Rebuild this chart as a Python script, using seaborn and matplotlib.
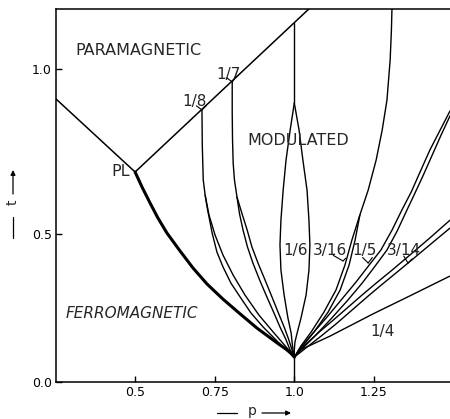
import numpy as np
import matplotlib
matplotlib.use("Agg")
import matplotlib.pyplot as plt
import seaborn as sns

# ---- phase boundaries in the (p, t) plane ----
# paramagnetic / ferromagnetic line, ending at the Lifshitz point PL
para_ferro_p = [0.252, 0.500]
para_ferro_t = [0.909, 0.688]
# paramagnetic / modulated line, starting at PL
para_mod_p = [0.500, 1.060]
para_mod_t = [0.688, 1.195]
# ferromagnetic / modulated boundary (heavy line)
ferro_mod_p = [0.500, 0.522, 0.547, 0.572, 0.600, 0.641, 0.682, 0.726, 0.776,
               0.830, 0.883, 0.946, 0.987, 1.000]
ferro_mod_t = [0.688, 0.642, 0.594, 0.548, 0.503, 0.443, 0.385, 0.331, 0.280,
               0.230, 0.182, 0.132, 0.101, 0.084]

# commensurate phase 1/8
q18a_p = [0.710, 0.711, 0.714, 0.720, 0.726, 0.742, 0.757, 0.776, 0.801, 0.830,
          0.864, 0.902, 0.936, 0.965, 0.984, 1.000]
q18a_t = [0.876, 0.770, 0.664, 0.618, 0.582, 0.503, 0.439, 0.389, 0.334, 0.287,
          0.233, 0.186, 0.149, 0.118, 0.098, 0.084]
q18b_p = [0.720, 0.732, 0.751, 0.776, 0.808, 0.845, 0.889, 0.936, 0.977, 1.000]
q18b_t = [0.618, 0.558, 0.497, 0.429, 0.361, 0.294, 0.226, 0.166, 0.115, 0.084]
# commensurate phase 1/7
q17a_p = [0.805, 0.805, 0.806, 0.808, 0.812, 0.820, 0.828, 0.839, 0.853, 0.870,
          0.891, 0.914, 0.935, 0.955, 0.973, 0.987, 1.000]
q17a_t = [0.961, 0.867, 0.785, 0.715, 0.664, 0.612, 0.561, 0.512, 0.456, 0.402,
          0.345, 0.287, 0.236, 0.186, 0.145, 0.108, 0.084]
q17b_p = [0.820, 0.836, 0.852, 0.867, 0.886, 0.908, 0.930, 0.949, 0.968, 0.982,
          0.993, 1.000]
q17b_t = [0.612, 0.561, 0.512, 0.456, 0.402, 0.345, 0.287, 0.236, 0.186, 0.145,
          0.108, 0.084]
# commensurate phase 1/6 (stem and lens)
q16_stem_p = [1.000, 1.000]
q16_stem_t = [1.140, 0.897]
q16_lens_t = [0.897, 0.815, 0.724, 0.633, 0.542, 0.463, 0.378, 0.294, 0.216,
              0.166, 0.135, 0.108, 0.084]
q16_left_p = [1.000, 0.987, 0.974, 0.965, 0.958, 0.955, 0.958, 0.968, 0.980,
              0.990, 0.993, 0.996, 1.000]
q16_right_p = [1.000, 1.015, 1.027, 1.040, 1.046, 1.049, 1.046, 1.037, 1.021,
               1.009, 1.002, 1.000, 1.000]
# commensurate phase 3/16
q316a_p = [1.307, 1.305, 1.301, 1.291, 1.276, 1.257, 1.232, 1.206, 1.181, 1.159,
           1.131, 1.093, 1.053, 1.021, 1.000]
q316a_t = [1.194, 1.118, 1.027, 0.906, 0.815, 0.724, 0.633, 0.558, 0.480, 0.395,
           0.311, 0.236, 0.169, 0.122, 0.084]
q316b_p = [1.206, 1.191, 1.172, 1.144, 1.106, 1.062, 1.027, 1.000]
q316b_t = [0.558, 0.480, 0.395, 0.311, 0.236, 0.169, 0.122, 0.084]
# commensurate phase 1/5
q15a_p = [1.489, 1.458, 1.426, 1.395, 1.367, 1.338, 1.307, 1.272, 1.235, 1.194,
          1.147, 1.100, 1.056, 1.021, 1.000]
q15a_t = [0.873, 0.815, 0.755, 0.688, 0.627, 0.573, 0.512, 0.446, 0.395, 0.338,
          0.277, 0.216, 0.162, 0.118, 0.084]
q15b_p = [1.489, 1.461, 1.433, 1.404, 1.376, 1.351, 1.323, 1.291, 1.254, 1.213,
          1.166, 1.115, 1.068, 1.027, 1.000]
q15b_t = [0.858, 0.800, 0.739, 0.676, 0.618, 0.567, 0.509, 0.446, 0.392, 0.334,
          0.274, 0.213, 0.159, 0.115, 0.084]
# commensurate phase 3/14
q314a_p = [1.489, 1.426, 1.363, 1.307, 1.257, 1.213, 1.166, 1.119, 1.075, 1.034,
           1.000]
q314a_t = [0.542, 0.487, 0.429, 0.378, 0.334, 0.294, 0.250, 0.206, 0.166, 0.125,
           0.084]
q314b_p = [1.489, 1.433, 1.373, 1.319, 1.269, 1.225, 1.178, 1.131, 1.084, 1.040,
           1.000]
q314b_t = [0.518, 0.470, 0.416, 0.368, 0.324, 0.284, 0.240, 0.196, 0.155, 0.118,
           0.084]
# antiphase 1/4 boundary
q14_p = [1.489, 1.363, 1.247, 1.112, 1.018, 1.000]
q14_t = [0.358, 0.291, 0.230, 0.155, 0.108, 0.084]
# multiphase line at p = 1
mp_p = [1.000, 1.000]
mp_t = [0.000, 0.084]

x_ticks = [0.5, 0.75, 1.0, 1.25]
x_tick_labels = ["0.5", "0.75", "1.0", "1.25"]
y_ticks = [0.0, 0.5, 1.0]
y_tick_labels = ["0.0", "0.5", "1.0"]

sns.set_theme(style="white")
plt.rcParams["font.family"] = ["DejaVu Sans"]

fig = plt.figure(figsize=(4.5, 4.19), dpi=100)
ax = fig.add_axes([0.1244, 0.0883, 0.8756, 0.8902])

# temperature axis is stretched piecewise (as printed)
T_KNOTS = [-1.0, 0.0, 0.5, 1.0, 2.0]
H_KNOTS = [-296.0, 0.0, 148.0, 313.0, 643.0]


def t_fwd(t):
    return np.interp(t, T_KNOTS, H_KNOTS)


def t_inv(h):
    return np.interp(h, H_KNOTS, T_KNOTS)


def boundary(p, t, lw=1.0):
    sns.lineplot(x=p, y=t, sort=False, estimator=None, color="black",
                 lw=lw, ax=ax, solid_capstyle="round", solid_joinstyle="round")


boundary(para_ferro_p, para_ferro_t, 1.1)
boundary(para_mod_p, para_mod_t, 1.1)
boundary(ferro_mod_p, ferro_mod_t, 2.2)
for p, t in [(q18a_p, q18a_t), (q18b_p, q18b_t), (q17a_p, q17a_t),
             (q17b_p, q17b_t), (q16_stem_p, q16_stem_t),
             (q16_left_p, q16_lens_t), (q16_right_p, q16_lens_t),
             (q316a_p, q316a_t), (q316b_p, q316b_t), (q15a_p, q15a_t),
             (q15b_p, q15b_t), (q314a_p, q314a_t), (q314b_p, q314b_t),
             (q14_p, q14_t), (mp_p, mp_t)]:
    boundary(p, t, 1.0)

ax.set_yscale("function", functions=(t_fwd, t_inv))
ax.set_xlim(0.2515, 1.489)
ax.set_ylim(0.0, 1.182)
ax.set_xticks(x_ticks)
ax.set_xticklabels(x_tick_labels)
ax.set_yticks(y_ticks)
ax.set_yticklabels(y_tick_labels)
ax.minorticks_off()
ax.tick_params(direction="in", length=4, width=1.0, pad=3, labelsize=9,
               colors="black", bottom=True, left=True, top=False, right=False)
ax.set_xlabel("")
ax.set_ylabel("")
for side in ["left", "bottom", "top"]:
    ax.spines[side].set_color("black")
    ax.spines[side].set_linewidth(1.1)
ax.spines["right"].set_visible(False)

# region names
ax.text(0.509, 1.055, "PARAMAGNETIC", ha="center", va="center", fontsize=11.5)
ax.text(1.012, 0.782, "MODULATED", ha="center", va="center", fontsize=11.5)
ax.text(0.491, 0.230, "FERROMAGNETIC", ha="center", va="center",
        fontsize=11, style="italic")
ax.text(0.484, 0.688, "PL", ha="right", va="center", fontsize=11.5)

# phase labels
for txt, p, t in [("1/8", 0.685, 0.903), ("1/7", 0.792, 0.982),
                  ("1/6", 1.005, 0.446), ("3/16", 1.112, 0.446),
                  ("1/5", 1.219, 0.446), ("3/14", 1.345, 0.446),
                  ("1/4", 1.276, 0.172)]:
    ax.text(p, t, txt, ha="center", va="center", fontsize=11)

# small hooks tying labels to their lines
for tip, arms in [((0.710, 0.876), [(-4, 3), (3, 3)]),
                  ((0.805, 0.961), [(-4, 3), (3, 4)]),
                  ((1.153, 0.409), [(-7, 4), (2, 2)]),
                  ((1.232, 0.402), [(-4, 4), (3, 4)]),
                  ((1.357, 0.402), [(-3, 5), (3, 3)])]:
    for dx, dy in arms:
        ax.annotate("", xy=tip, xytext=(dx, dy), textcoords="offset points",
                    arrowprops=dict(arrowstyle="-", lw=0.8, color="black",
                                    shrinkA=0, shrinkB=0))

# axis captions with arrows
fig.text(252 / 450, 1 - 415 / 419, "p", ha="center", va="baseline", fontsize=10)
fig.add_artist(plt.Line2D([217 / 450, 237 / 450], [1 - 413 / 419] * 2,
                          transform=fig.transFigure, color="black", lw=0.9))
ax.annotate("", xy=(291 / 450, 1 - 413 / 419), xytext=(262 / 450, 1 - 413 / 419),
            xycoords="figure fraction", textcoords="figure fraction",
            arrowprops=dict(arrowstyle="-|>", lw=0.9, color="black",
                            mutation_scale=7, shrinkA=0, shrinkB=0))
fig.text(13 / 450, 1 - 202 / 419, "t", ha="center", va="center",
         fontsize=10, rotation=90)
fig.add_artist(plt.Line2D([13 / 450] * 2, [1 - 217 / 419, 1 - 238 / 419],
                          transform=fig.transFigure, color="black", lw=0.9))
ax.annotate("", xy=(13 / 450, 1 - 170 / 419), xytext=(13 / 450, 1 - 194 / 419),
            xycoords="figure fraction", textcoords="figure fraction",
            arrowprops=dict(arrowstyle="-|>", lw=0.9, color="black",
                            mutation_scale=7, shrinkA=0, shrinkB=0))

fig.savefig("out.png", dpi=100, facecolor="white")
